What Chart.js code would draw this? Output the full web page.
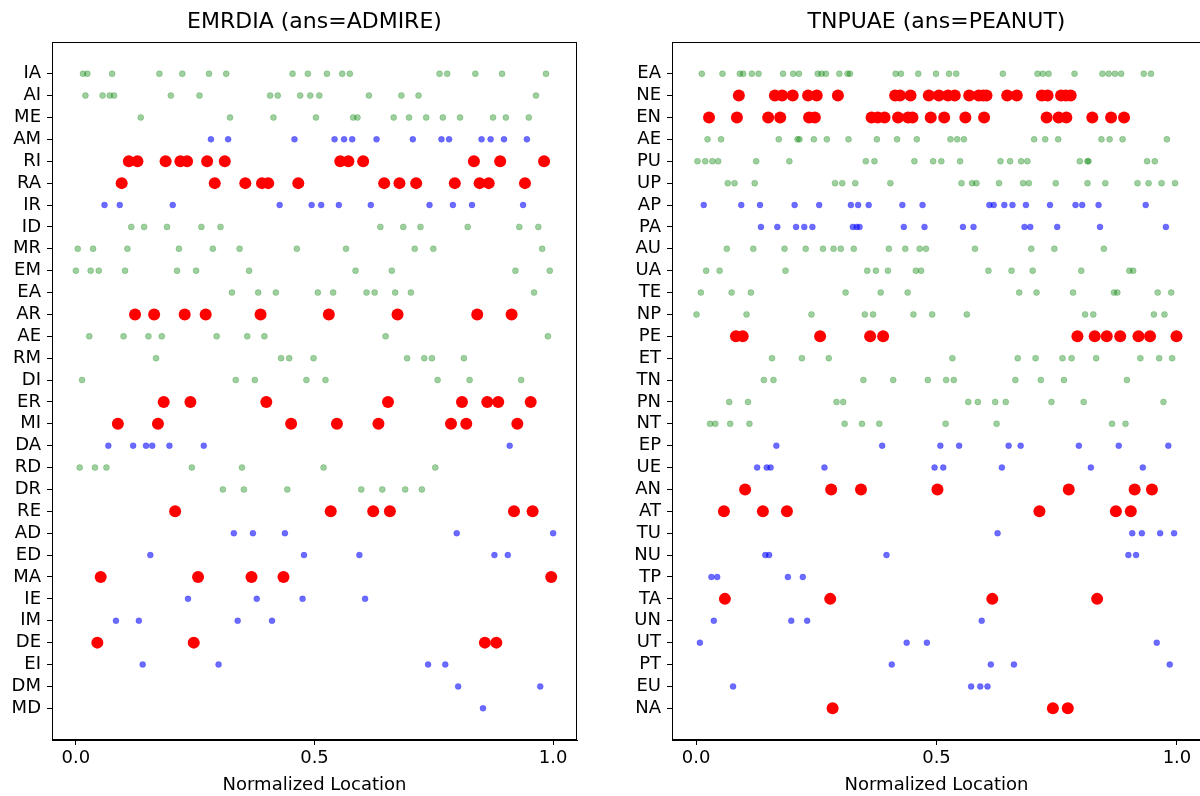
<!DOCTYPE html>
<html>
<head>
<meta charset="utf-8">
<script src="https://cdn.jsdelivr.net/npm/chart.js@4.4.0/dist/chart.umd.min.js"></script>
<style>
  html, body { margin: 0; padding: 0; background: #fff; overflow: hidden; }
  .panel { position: absolute; top: 0; height: 796px; }
  #leftBox { left: 0; width: 600px; }
  #rightBox { left: 620px; width: 587px; }
</style>
</head>
<body>
<div class="panel" id="leftBox"><canvas id="leftChart"></canvas></div>
<div class="panel" id="rightBox"><canvas id="rightChart"></canvas></div>
<script>
// ---- data: left panel ----
var leftTitle = 'EMRDIA (ans=ADMIRE)';
var leftRows = ['IA', 'AI', 'ME', 'AM', 'RI', 'RA', 'IR', 'ID', 'MR', 'EM', 'EA', 'AR', 'AE', 'RM', 'DI',
    'ER', 'MI', 'DA', 'RD', 'DR', 'RE', 'AD', 'ED', 'MA', 'IE', 'IM', 'DE', 'EI', 'DM', 'MD'];
// g = green (other), b = blue (other), r = red (answer hits)
var leftKinds = ['g', 'g', 'g', 'b', 'r', 'r', 'b', 'g', 'g', 'g', 'g', 'r', 'g', 'g', 'g',
    'r', 'r', 'b', 'g', 'g', 'r', 'b', 'b', 'r', 'b', 'b', 'r', 'b', 'b', 'b'];
var leftLocs = [
    [0.015, 0.024, 0.076, 0.175, 0.223, 0.279, 0.315, 0.454, 0.486, 0.526, 0.558, 0.574, 0.762, 0.778, 0.837, 0.893, 0.985],
    [0.020, 0.056, 0.071, 0.080, 0.199, 0.259, 0.407, 0.423, 0.470, 0.491, 0.510, 0.614, 0.682, 0.718, 0.964],
    [0.136, 0.323, 0.414, 0.503, 0.581, 0.590, 0.666, 0.698, 0.734, 0.769, 0.805, 0.874, 0.901, 0.949],
    [0.283, 0.319, 0.458, 0.542, 0.562, 0.579, 0.630, 0.706, 0.766, 0.782, 0.850, 0.869, 0.897, 0.945],
    [0.111, 0.129, 0.188, 0.219, 0.233, 0.275, 0.312, 0.554, 0.571, 0.602, 0.834, 0.889, 0.981],
    [0.096, 0.291, 0.355, 0.390, 0.403, 0.466, 0.646, 0.678, 0.713, 0.794, 0.846, 0.865, 0.941],
    [0.060, 0.092, 0.203, 0.427, 0.494, 0.514, 0.551, 0.618, 0.741, 0.790, 0.830, 0.937],
    [0.116, 0.143, 0.191, 0.263, 0.303, 0.638, 0.686, 0.722, 0.821, 0.929, 0.969],
    [0.004, 0.036, 0.108, 0.216, 0.287, 0.343, 0.463, 0.566, 0.710, 0.749, 0.977],
    [0.000, 0.031, 0.048, 0.103, 0.212, 0.252, 0.363, 0.586, 0.662, 0.921, 0.993],
    [0.327, 0.382, 0.419, 0.507, 0.539, 0.609, 0.626, 0.669, 0.702, 0.960],
    [0.124, 0.164, 0.228, 0.272, 0.387, 0.530, 0.674, 0.841, 0.913],
    [0.028, 0.100, 0.152, 0.180, 0.295, 0.359, 0.395, 0.649, 0.989],
    [0.168, 0.430, 0.447, 0.498, 0.694, 0.730, 0.746, 0.813],
    [0.013, 0.335, 0.375, 0.483, 0.523, 0.758, 0.825, 0.933],
    [0.184, 0.240, 0.399, 0.654, 0.809, 0.862, 0.885, 0.953],
    [0.088, 0.172, 0.451, 0.547, 0.634, 0.786, 0.818, 0.925],
    [0.068, 0.120, 0.147, 0.160, 0.196, 0.268, 0.909],
    [0.008, 0.040, 0.064, 0.243, 0.348, 0.519, 0.753],
    [0.308, 0.352, 0.443, 0.598, 0.642, 0.690, 0.725],
    [0.208, 0.534, 0.623, 0.658, 0.918, 0.957],
    [0.331, 0.371, 0.438, 0.798, 1.000],
    [0.156, 0.478, 0.594, 0.877, 0.905],
    [0.052, 0.256, 0.368, 0.435, 0.996],
    [0.235, 0.379, 0.475, 0.606],
    [0.084, 0.132, 0.339, 0.411],
    [0.045, 0.247, 0.857, 0.881],
    [0.140, 0.299, 0.738, 0.774],
    [0.801, 0.973],
    [0.853]
];

// ---- data: right panel ----
var rightTitle = 'TNPUAE (ans=PEANUT)';
var rightRows = ['EA', 'NE', 'EN', 'AE', 'PU', 'UP', 'AP', 'PA', 'AU', 'UA', 'TE', 'NP', 'PE', 'ET', 'TN',
    'PN', 'NT', 'EP', 'UE', 'AN', 'AT', 'TU', 'NU', 'TP', 'TA', 'UN', 'UT', 'PT', 'EU', 'NA'];
var rightKinds = ['g', 'r', 'r', 'g', 'g', 'g', 'b', 'b', 'g', 'g', 'g', 'g', 'r', 'g', 'g',
    'g', 'g', 'b', 'b', 'r', 'r', 'b', 'b', 'b', 'r', 'b', 'b', 'b', 'b', 'r'];
var rightLocs = [
    [0.012, 0.055, 0.091, 0.098, 0.116, 0.130, 0.181, 0.202, 0.214, 0.253, 0.261, 0.270, 0.298, 0.315, 0.320, 0.415,
        0.426, 0.462, 0.499, 0.526, 0.541, 0.638, 0.710, 0.721, 0.733, 0.787, 0.845, 0.858, 0.871, 0.884, 0.931, 0.946],
    [0.089, 0.164, 0.179, 0.201, 0.233, 0.251, 0.295, 0.414, 0.424, 0.446, 0.484, 0.505, 0.524, 0.538, 0.568, 0.588,
        0.597, 0.604, 0.647, 0.667, 0.719, 0.731, 0.759, 0.769, 0.779],
    [0.027, 0.085, 0.150, 0.175, 0.235, 0.247, 0.365, 0.378, 0.392, 0.420, 0.441, 0.450, 0.488, 0.516, 0.560, 0.599,
        0.729, 0.754, 0.770, 0.824, 0.863, 0.890],
    [0.024, 0.052, 0.172, 0.211, 0.215, 0.245, 0.272, 0.317, 0.376, 0.418, 0.459, 0.529, 0.543, 0.557, 0.703, 0.726,
        0.753, 0.843, 0.860, 0.887, 0.979],
    [0.003, 0.019, 0.034, 0.046, 0.125, 0.194, 0.353, 0.371, 0.454, 0.493, 0.510, 0.549, 0.633, 0.653, 0.676, 0.689,
        0.798, 0.814, 0.816, 0.938, 0.954],
    [0.066, 0.080, 0.122, 0.289, 0.304, 0.331, 0.404, 0.552, 0.574, 0.583, 0.630, 0.680, 0.692, 0.748, 0.814, 0.851,
        0.918, 0.941, 0.968, 0.996],
    [0.016, 0.094, 0.133, 0.205, 0.256, 0.322, 0.337, 0.359, 0.429, 0.471, 0.610, 0.619, 0.641, 0.658, 0.686, 0.736,
        0.789, 0.803, 0.837, 0.935],
    [0.135, 0.169, 0.208, 0.225, 0.242, 0.326, 0.334, 0.340, 0.432, 0.475, 0.555, 0.577, 0.683, 0.695, 0.751, 0.840, 0.977],
    [0.064, 0.119, 0.184, 0.228, 0.264, 0.286, 0.301, 0.328, 0.401, 0.435, 0.465, 0.478, 0.580, 0.697, 0.745, 0.848],
    [0.021, 0.049, 0.186, 0.356, 0.374, 0.399, 0.457, 0.468, 0.608, 0.656, 0.700, 0.801, 0.901, 0.909],
    [0.010, 0.074, 0.114, 0.311, 0.384, 0.440, 0.672, 0.708, 0.784, 0.869, 0.876, 0.960, 0.988],
    [0.001, 0.105, 0.240, 0.351, 0.368, 0.452, 0.491, 0.563, 0.809, 0.826, 0.952, 0.974],
    [0.083, 0.097, 0.258, 0.362, 0.389, 0.793, 0.829, 0.854, 0.882, 0.920, 0.944, 0.999],
    [0.158, 0.220, 0.276, 0.533, 0.669, 0.706, 0.762, 0.781, 0.832, 0.924, 0.963, 0.990],
    [0.141, 0.161, 0.348, 0.410, 0.482, 0.520, 0.536, 0.664, 0.717, 0.765, 0.896],
    [0.069, 0.108, 0.292, 0.306, 0.566, 0.586, 0.622, 0.644, 0.739, 0.806, 0.972],
    [0.029, 0.040, 0.071, 0.111, 0.309, 0.345, 0.381, 0.519, 0.625, 0.865, 0.893],
    [0.167, 0.387, 0.508, 0.547, 0.650, 0.675, 0.796, 0.879, 0.982],
    [0.127, 0.147, 0.155, 0.267, 0.496, 0.514, 0.636, 0.821, 0.929],
    [0.102, 0.281, 0.343, 0.502, 0.775, 0.912, 0.948],
    [0.058, 0.139, 0.189, 0.714, 0.873, 0.904],
    [0.627, 0.907, 0.927, 0.965, 0.994],
    [0.144, 0.152, 0.396, 0.899, 0.915],
    [0.032, 0.044, 0.191, 0.222],
    [0.060, 0.279, 0.616, 0.834],
    [0.037, 0.198, 0.231, 0.594],
    [0.008, 0.438, 0.480, 0.958],
    [0.407, 0.613, 0.661, 0.985],
    [0.077, 0.572, 0.591, 0.606],
    [0.284, 0.742, 0.773]
];

var xTicks = [0, 0.5, 1.0];
var xLabel = 'Normalized Location';

// ---- styles ----
var FONT = '"DejaVu Sans", sans-serif';
var kindStyle = {
    g: { bg: 'rgba(0,128,0,0.38)', border: 'rgba(0,128,0,0.22)', radius: 3, bw: 1 },
    b: { bg: 'rgba(0,0,255,0.58)', border: 'rgba(0,0,255,0.22)', radius: 3, bw: 1 },
    r: { bg: '#ff0000', border: '#ff0000', radius: 6, bw: 0 }
};

Chart.defaults.font.family = FONT;
Chart.defaults.color = '#000';

// frame on all four sides + title above the plot area
var framePlugin = {
    id: 'frame',
    afterDraw: function (chart, args, opts) {
        var a = chart.chartArea, ctx = chart.ctx;
        ctx.save();
        ctx.strokeStyle = '#000';
        ctx.lineWidth = 1;
        ctx.strokeRect(Math.round(a.left) + 0.5, Math.round(a.top) + 0.5,
            Math.round(a.right - a.left) - 1, Math.round(a.bottom - a.top) - 1);
        ctx.fillStyle = '#000';
        ctx.font = '22px ' + FONT;
        ctx.textAlign = 'center';
        ctx.textBaseline = 'middle';
        ctx.fillText(opts.text, (a.left + a.right) / 2, 22);
        ctx.restore();
    }
};

function buildDatasets(rows, kinds, locs) {
    var out = [];
    ['g', 'b', 'r'].forEach(function (k) {
        var pts = [];
        rows.forEach(function (name, i) {
            if (kinds[i] !== k) return;
            locs[i].forEach(function (v) { pts.push({ x: v, y: i }); });
        });
        var s = kindStyle[k];
        out.push({
            label: k, data: pts,
            backgroundColor: s.bg, borderColor: s.border,
            pointRadius: s.radius, pointHoverRadius: s.radius,
            borderWidth: s.bw, clip: false
        });
    });
    return out;
}

function makeChart(id, title, rows, kinds, locs, padRight) {
    var ctx = document.getElementById(id).getContext('2d');
    return new Chart(ctx, {
        type: 'scatter',
        data: { datasets: buildDatasets(rows, kinds, locs) },
        options: {
            responsive: true, maintainAspectRatio: false, animation: false,
            layout: { padding: { top: 42, right: padRight, left: 0, bottom: 0 } },
            plugins: {
                legend: { display: false },
                tooltip: { enabled: false },
                frame: { text: title }
            },
            scales: {
                x: {
                    type: 'linear', min: -0.05, max: 1.05,
                    afterBuildTicks: function (scale) {
                        scale.ticks = xTicks.map(function (v) { return { value: v }; });
                    },
                    afterFit: function (scale) {
                        scale.height = 56;
                        scale.paddingLeft = 0;
                        scale.paddingRight = 0;
                    },
                    ticks: {
                        font: { size: 18 }, color: '#000', padding: 3, maxRotation: 0,
                        callback: function (v) { return Number(v).toFixed(1); }
                    },
                    grid: { drawOnChartArea: false, drawTicks: true, tickLength: 5, color: '#000' },
                    border: { display: true, color: '#000' },
                    title: { display: true, text: xLabel, font: { size: 18 }, color: '#000', padding: { top: 0, bottom: 0 } }
                },
                y: {
                    type: 'linear', reverse: true, min: -1.45, max: 30.45,
                    afterBuildTicks: function (scale) {
                        scale.ticks = rows.map(function (r, i) { return { value: i }; });
                    },
                    afterFit: function (scale) {
                        scale.width = 52;
                        scale.paddingTop = 0;
                        scale.paddingBottom = 0;
                    },
                    ticks: {
                        font: { size: 18 }, color: '#000', padding: 6, autoSkip: false,
                        callback: function (v) { return rows[v]; }
                    },
                    grid: { drawOnChartArea: false, drawTicks: true, tickLength: 5, color: '#000' },
                    border: { display: true, color: '#000' }
                }
            }
        },
        plugins: [framePlugin]
    });
}

makeChart('leftChart', leftTitle, leftRows, leftKinds, leftLocs, 23);
makeChart('rightChart', rightTitle, rightRows, rightKinds, rightLocs, 0);
</script>
</body>
</html>
